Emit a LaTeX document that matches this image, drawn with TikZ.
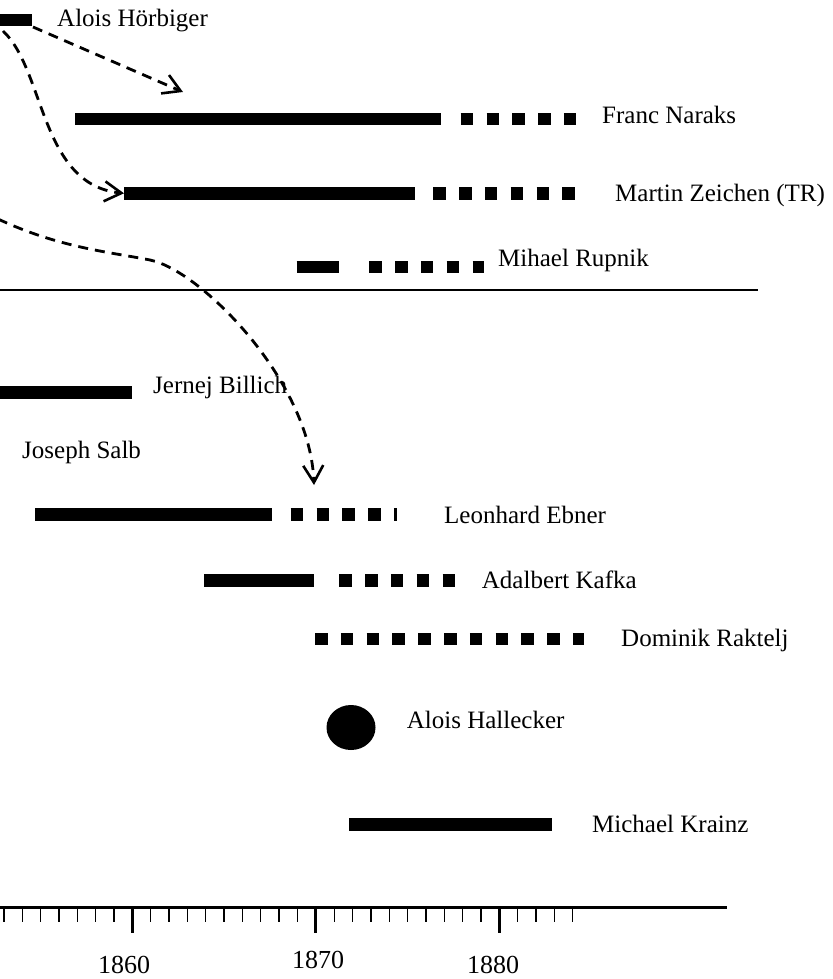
\documentclass[tikz,border=0pt]{standalone}
\usepackage{fontspec}
\setmainfont{Liberation Serif}
\usetikzlibrary{arrows.meta}
\begin{document}
\begin{tikzpicture}[x=1pt,y=-1pt,
  lbl/.style={anchor=base west, inner sep=0pt, font=\fontsize{25}{30}\selectfont},
  yr/.style={anchor=base, inner sep=0pt, font=\fontsize{26}{30}\selectfont},
  solidbar/.style={line width=12.5pt},
  dotbar/.style={line width=12.5pt, dash pattern=on 12.5pt off 13.3pt},
  link/.style={line width=2.8pt, dash pattern=on 10pt off 7pt,
    -{Straight Barb[length=17pt,width=20pt,line width=2.6pt]}},
  minortick/.style={line width=1.3pt},
  majortick/.style={line width=3pt}]
\useasboundingbox (0,0) rectangle (832,979);

% bars
\draw[solidbar] (0,20) -- (32,20);
\draw[solidbar] (75,118.8) -- (441,118.8);
\draw[dotbar] (460.7,118.8) -- (576,118.8);
\draw[solidbar] (124,193.3) -- (415,193.3);
\draw[dotbar] (433.3,193.3) -- (575,193.3);
\draw[solidbar] (296.7,267) -- (339.3,267);
\draw[dotbar] (369.3,267) -- (484,267);
\draw[solidbar] (0,392.5) -- (132,392.5);
\draw[solidbar] (35,514.5) -- (272,514.5);
\draw[dotbar] (290.7,514.5) -- (397.3,514.5);
\draw[solidbar] (204,580.3) -- (314.3,580.3);
\draw[dotbar] (339.3,580.3) -- (455,580.3);
\draw[dotbar] (315,638.8) -- (584,638.8);
\fill (351,727.5) ellipse [x radius=24.5pt, y radius=22.5pt];
\draw[solidbar] (349.3,824.7) -- (551.7,824.7);

% separator
\draw[line width=2.7pt] (0,290) -- (758,290);

% axis
\draw[line width=2.5pt] (0,907.3) -- (727,907.3);
\foreach \k in {-7,...,-1,1,2,...,9,11,12,...,19,21,22,23,24}
  \draw[minortick] (132.3+\k*18.35,907.3) -- ++(0,14.5);
\foreach \k in {0,10,20}
  \draw[majortick] (132.3+\k*18.35,907.3) -- ++(0,26);
\node[yr] (y1860) at (124,973) {1860};
\node[yr] (y1870) at (318,968) {1870};
\node[yr] (y1880) at (493,973) {1880};

% labels
\node[lbl] (hoerbiger) at (57,27) {Alois Hörbiger};
\node[lbl] (naraks) at (602,123.3) {Franc Naraks};
\node[lbl] (zeichen) at (615,201) {Martin Zeichen (TR)};
\node[lbl] (rupnik) at (498,266) {Mihael Rupnik};
\node[lbl] (billich) at (153,393.3) {Jernej Billich};
\node[lbl] (salb) at (22,458.3) {Joseph Salb};
\node[lbl] (ebner) at (444,523.3) {Leonhard Ebner};
\node[lbl] (kafka) at (481.7,588.3) {Adalbert Kafka};
\node[lbl] (raktelj) at (621,646) {Dominik Raktelj};
\node[lbl] (hallecker) at (406.7,728.3) {Alois Hallecker};
\node[lbl] (krainz) at (592,832) {Michael Krainz};

% connectors
\coordinate (hoerbigerEnd) at (33,27);
\coordinate (naraksTip) at (183,92);
\coordinate (hoerbigerStart) at (3,31);
\coordinate (zeichenStart) at (124,193.3);
\coordinate (offLeft) at (-2,219);
\coordinate (ebnerTip) at (314,485);
\draw[link] (hoerbigerEnd) -- (naraksTip);
\draw[link] (hoerbigerStart) .. controls (45,70) and (40,185) .. (zeichenStart);
\draw[link] (offLeft) .. controls (60,248) and (110,252) .. (150,260)
  .. controls (200,270) and (310,380) .. (ebnerTip);
\end{tikzpicture}
\end{document}
